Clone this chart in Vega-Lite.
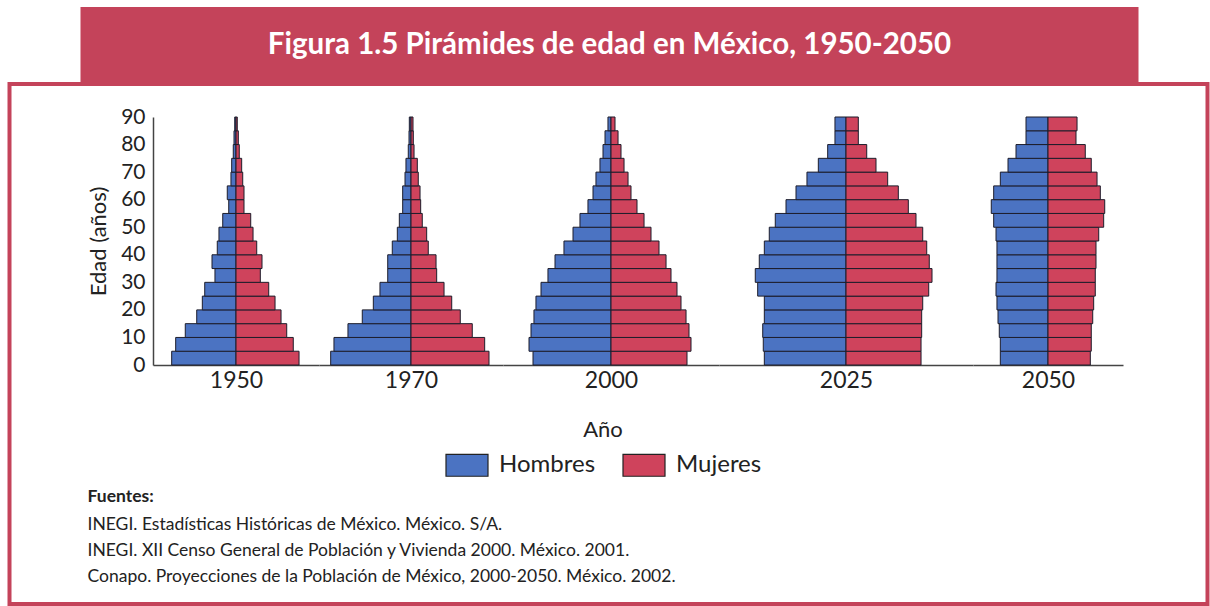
{
  "$schema": "https://vega.github.io/schema/vega-lite/v6.json",
  "padding": {"left": 7.5, "top": 7, "right": 0, "bottom": 0},
  "background": "white",
  "datasets": {
    "piramides": [
      {"anio":"1950","sexo":"Hombres","edad":0,"edad_fin":5,"valor":-8.04},
      {"anio":"1950","sexo":"Hombres","edad":5,"edad_fin":10,"valor":-7.54},
      {"anio":"1950","sexo":"Hombres","edad":10,"edad_fin":15,"valor":-6.34},
      {"anio":"1950","sexo":"Hombres","edad":15,"edad_fin":20,"valor":-4.91},
      {"anio":"1950","sexo":"Hombres","edad":20,"edad_fin":25,"valor":-4.21},
      {"anio":"1950","sexo":"Hombres","edad":25,"edad_fin":30,"valor":-3.91},
      {"anio":"1950","sexo":"Hombres","edad":30,"edad_fin":35,"valor":-2.63},
      {"anio":"1950","sexo":"Hombres","edad":35,"edad_fin":40,"valor":-3.00},
      {"anio":"1950","sexo":"Hombres","edad":40,"edad_fin":45,"valor":-2.34},
      {"anio":"1950","sexo":"Hombres","edad":45,"edad_fin":50,"valor":-2.13},
      {"anio":"1950","sexo":"Hombres","edad":50,"edad_fin":55,"valor":-1.66},
      {"anio":"1950","sexo":"Hombres","edad":55,"edad_fin":60,"valor":-0.91},
      {"anio":"1950","sexo":"Hombres","edad":60,"edad_fin":65,"valor":-1.09},
      {"anio":"1950","sexo":"Hombres","edad":65,"edad_fin":70,"valor":-0.63},
      {"anio":"1950","sexo":"Hombres","edad":70,"edad_fin":75,"valor":-0.54},
      {"anio":"1950","sexo":"Hombres","edad":75,"edad_fin":80,"valor":-0.34},
      {"anio":"1950","sexo":"Hombres","edad":80,"edad_fin":85,"valor":-0.25},
      {"anio":"1950","sexo":"Hombres","edad":85,"edad_fin":90,"valor":-0.16},
      {"anio":"1950","sexo":"Mujeres","edad":0,"edad_fin":5,"valor":7.88},
      {"anio":"1950","sexo":"Mujeres","edad":5,"edad_fin":10,"valor":7.16},
      {"anio":"1950","sexo":"Mujeres","edad":10,"edad_fin":15,"valor":6.34},
      {"anio":"1950","sexo":"Mujeres","edad":15,"edad_fin":20,"valor":5.63},
      {"anio":"1950","sexo":"Mujeres","edad":20,"edad_fin":25,"valor":4.88},
      {"anio":"1950","sexo":"Mujeres","edad":25,"edad_fin":30,"valor":4.09},
      {"anio":"1950","sexo":"Mujeres","edad":30,"edad_fin":35,"valor":3.04},
      {"anio":"1950","sexo":"Mujeres","edad":35,"edad_fin":40,"valor":3.25},
      {"anio":"1950","sexo":"Mujeres","edad":40,"edad_fin":45,"valor":2.59},
      {"anio":"1950","sexo":"Mujeres","edad":45,"edad_fin":50,"valor":2.13},
      {"anio":"1950","sexo":"Mujeres","edad":50,"edad_fin":55,"valor":1.84},
      {"anio":"1950","sexo":"Mujeres","edad":55,"edad_fin":60,"valor":1.00},
      {"anio":"1950","sexo":"Mujeres","edad":60,"edad_fin":65,"valor":1.00},
      {"anio":"1950","sexo":"Mujeres","edad":65,"edad_fin":70,"valor":0.84},
      {"anio":"1950","sexo":"Mujeres","edad":70,"edad_fin":75,"valor":0.71},
      {"anio":"1950","sexo":"Mujeres","edad":75,"edad_fin":80,"valor":0.41},
      {"anio":"1950","sexo":"Mujeres","edad":80,"edad_fin":85,"valor":0.29},
      {"anio":"1950","sexo":"Mujeres","edad":85,"edad_fin":90,"valor":0.16},
      {"anio":"1970","sexo":"Hombres","edad":0,"edad_fin":5,"valor":-10.04},
      {"anio":"1970","sexo":"Hombres","edad":5,"edad_fin":10,"valor":-9.63},
      {"anio":"1970","sexo":"Hombres","edad":10,"edad_fin":15,"valor":-7.88},
      {"anio":"1970","sexo":"Hombres","edad":15,"edad_fin":20,"valor":-6.09},
      {"anio":"1970","sexo":"Hombres","edad":20,"edad_fin":25,"valor":-4.71},
      {"anio":"1970","sexo":"Hombres","edad":25,"edad_fin":30,"valor":-3.88},
      {"anio":"1970","sexo":"Hombres","edad":30,"edad_fin":35,"valor":-2.91},
      {"anio":"1970","sexo":"Hombres","edad":35,"edad_fin":40,"valor":-2.91},
      {"anio":"1970","sexo":"Hombres","edad":40,"edad_fin":45,"valor":-2.34},
      {"anio":"1970","sexo":"Hombres","edad":45,"edad_fin":50,"valor":-1.71},
      {"anio":"1970","sexo":"Hombres","edad":50,"edad_fin":55,"valor":-1.46},
      {"anio":"1970","sexo":"Hombres","edad":55,"edad_fin":60,"valor":-1.04},
      {"anio":"1970","sexo":"Hombres","edad":60,"edad_fin":65,"valor":-1.04},
      {"anio":"1970","sexo":"Hombres","edad":65,"edad_fin":70,"valor":-0.75},
      {"anio":"1970","sexo":"Hombres","edad":70,"edad_fin":75,"valor":-0.63},
      {"anio":"1970","sexo":"Hombres","edad":75,"edad_fin":80,"valor":-0.34},
      {"anio":"1970","sexo":"Hombres","edad":80,"edad_fin":85,"valor":-0.25},
      {"anio":"1970","sexo":"Hombres","edad":85,"edad_fin":90,"valor":-0.21},
      {"anio":"1970","sexo":"Mujeres","edad":0,"edad_fin":5,"valor":9.75},
      {"anio":"1970","sexo":"Mujeres","edad":5,"edad_fin":10,"valor":9.21},
      {"anio":"1970","sexo":"Mujeres","edad":10,"edad_fin":15,"valor":7.66},
      {"anio":"1970","sexo":"Mujeres","edad":15,"edad_fin":20,"valor":6.16},
      {"anio":"1970","sexo":"Mujeres","edad":20,"edad_fin":25,"valor":5.09},
      {"anio":"1970","sexo":"Mujeres","edad":25,"edad_fin":30,"valor":4.13},
      {"anio":"1970","sexo":"Mujeres","edad":30,"edad_fin":35,"valor":3.21},
      {"anio":"1970","sexo":"Mujeres","edad":35,"edad_fin":40,"valor":3.13},
      {"anio":"1970","sexo":"Mujeres","edad":40,"edad_fin":45,"valor":2.16},
      {"anio":"1970","sexo":"Mujeres","edad":45,"edad_fin":50,"valor":1.96},
      {"anio":"1970","sexo":"Mujeres","edad":50,"edad_fin":55,"valor":1.41},
      {"anio":"1970","sexo":"Mujeres","edad":55,"edad_fin":60,"valor":1.21},
      {"anio":"1970","sexo":"Mujeres","edad":60,"edad_fin":65,"valor":1.13},
      {"anio":"1970","sexo":"Mujeres","edad":65,"edad_fin":70,"valor":0.91},
      {"anio":"1970","sexo":"Mujeres","edad":70,"edad_fin":75,"valor":0.79},
      {"anio":"1970","sexo":"Mujeres","edad":75,"edad_fin":80,"valor":0.38},
      {"anio":"1970","sexo":"Mujeres","edad":80,"edad_fin":85,"valor":0.29},
      {"anio":"1970","sexo":"Mujeres","edad":85,"edad_fin":90,"valor":0.25},
      {"anio":"2000","sexo":"Hombres","edad":0,"edad_fin":5,"valor":-9.75},
      {"anio":"2000","sexo":"Hombres","edad":5,"edad_fin":10,"valor":-10.25},
      {"anio":"2000","sexo":"Hombres","edad":10,"edad_fin":15,"valor":-10.00},
      {"anio":"2000","sexo":"Hombres","edad":15,"edad_fin":20,"valor":-9.63},
      {"anio":"2000","sexo":"Hombres","edad":20,"edad_fin":25,"valor":-9.38},
      {"anio":"2000","sexo":"Hombres","edad":25,"edad_fin":30,"valor":-8.75},
      {"anio":"2000","sexo":"Hombres","edad":30,"edad_fin":35,"valor":-7.88},
      {"anio":"2000","sexo":"Hombres","edad":35,"edad_fin":40,"valor":-7.00},
      {"anio":"2000","sexo":"Hombres","edad":40,"edad_fin":45,"valor":-5.88},
      {"anio":"2000","sexo":"Hombres","edad":45,"edad_fin":50,"valor":-4.75},
      {"anio":"2000","sexo":"Hombres","edad":50,"edad_fin":55,"valor":-3.88},
      {"anio":"2000","sexo":"Hombres","edad":55,"edad_fin":60,"valor":-2.88},
      {"anio":"2000","sexo":"Hombres","edad":60,"edad_fin":65,"valor":-2.25},
      {"anio":"2000","sexo":"Hombres","edad":65,"edad_fin":70,"valor":-1.88},
      {"anio":"2000","sexo":"Hombres","edad":70,"edad_fin":75,"valor":-1.38},
      {"anio":"2000","sexo":"Hombres","edad":75,"edad_fin":80,"valor":-1.00},
      {"anio":"2000","sexo":"Hombres","edad":80,"edad_fin":85,"valor":-0.75},
      {"anio":"2000","sexo":"Hombres","edad":85,"edad_fin":90,"valor":-0.38},
      {"anio":"2000","sexo":"Mujeres","edad":0,"edad_fin":5,"valor":9.50},
      {"anio":"2000","sexo":"Mujeres","edad":5,"edad_fin":10,"valor":10.00},
      {"anio":"2000","sexo":"Mujeres","edad":10,"edad_fin":15,"valor":9.75},
      {"anio":"2000","sexo":"Mujeres","edad":15,"edad_fin":20,"valor":9.38},
      {"anio":"2000","sexo":"Mujeres","edad":20,"edad_fin":25,"valor":8.75},
      {"anio":"2000","sexo":"Mujeres","edad":25,"edad_fin":30,"valor":8.25},
      {"anio":"2000","sexo":"Mujeres","edad":30,"edad_fin":35,"valor":7.50},
      {"anio":"2000","sexo":"Mujeres","edad":35,"edad_fin":40,"valor":6.88},
      {"anio":"2000","sexo":"Mujeres","edad":40,"edad_fin":45,"valor":6.00},
      {"anio":"2000","sexo":"Mujeres","edad":45,"edad_fin":50,"valor":5.00},
      {"anio":"2000","sexo":"Mujeres","edad":50,"edad_fin":55,"valor":4.13},
      {"anio":"2000","sexo":"Mujeres","edad":55,"edad_fin":60,"valor":3.25},
      {"anio":"2000","sexo":"Mujeres","edad":60,"edad_fin":65,"valor":2.50},
      {"anio":"2000","sexo":"Mujeres","edad":65,"edad_fin":70,"valor":2.13},
      {"anio":"2000","sexo":"Mujeres","edad":70,"edad_fin":75,"valor":1.63},
      {"anio":"2000","sexo":"Mujeres","edad":75,"edad_fin":80,"valor":1.25},
      {"anio":"2000","sexo":"Mujeres","edad":80,"edad_fin":85,"valor":0.88},
      {"anio":"2000","sexo":"Mujeres","edad":85,"edad_fin":90,"valor":0.50},
      {"anio":"2025","sexo":"Hombres","edad":0,"edad_fin":5,"valor":-10.21},
      {"anio":"2025","sexo":"Hombres","edad":5,"edad_fin":10,"valor":-10.34},
      {"anio":"2025","sexo":"Hombres","edad":10,"edad_fin":15,"valor":-10.41},
      {"anio":"2025","sexo":"Hombres","edad":15,"edad_fin":20,"valor":-10.21},
      {"anio":"2025","sexo":"Hombres","edad":20,"edad_fin":25,"valor":-10.21},
      {"anio":"2025","sexo":"Hombres","edad":25,"edad_fin":30,"valor":-11.04},
      {"anio":"2025","sexo":"Hombres","edad":30,"edad_fin":35,"valor":-11.34},
      {"anio":"2025","sexo":"Hombres","edad":35,"edad_fin":40,"valor":-10.84},
      {"anio":"2025","sexo":"Hombres","edad":40,"edad_fin":45,"valor":-10.21},
      {"anio":"2025","sexo":"Hombres","edad":45,"edad_fin":50,"valor":-9.59},
      {"anio":"2025","sexo":"Hombres","edad":50,"edad_fin":55,"valor":-8.84},
      {"anio":"2025","sexo":"Hombres","edad":55,"edad_fin":60,"valor":-7.50},
      {"anio":"2025","sexo":"Hombres","edad":60,"edad_fin":65,"valor":-6.25},
      {"anio":"2025","sexo":"Hombres","edad":65,"edad_fin":70,"valor":-4.88},
      {"anio":"2025","sexo":"Hombres","edad":70,"edad_fin":75,"valor":-3.46},
      {"anio":"2025","sexo":"Hombres","edad":75,"edad_fin":80,"valor":-2.29},
      {"anio":"2025","sexo":"Hombres","edad":80,"edad_fin":85,"valor":-1.38},
      {"anio":"2025","sexo":"Hombres","edad":85,"edad_fin":90,"valor":-1.38},
      {"anio":"2025","sexo":"Mujeres","edad":0,"edad_fin":5,"valor":9.38},
      {"anio":"2025","sexo":"Mujeres","edad":5,"edad_fin":10,"valor":9.38},
      {"anio":"2025","sexo":"Mujeres","edad":10,"edad_fin":15,"valor":9.46},
      {"anio":"2025","sexo":"Mujeres","edad":15,"edad_fin":20,"valor":9.46},
      {"anio":"2025","sexo":"Mujeres","edad":20,"edad_fin":25,"valor":9.59},
      {"anio":"2025","sexo":"Mujeres","edad":25,"edad_fin":30,"valor":10.34},
      {"anio":"2025","sexo":"Mujeres","edad":30,"edad_fin":35,"valor":10.75},
      {"anio":"2025","sexo":"Mujeres","edad":35,"edad_fin":40,"valor":10.41},
      {"anio":"2025","sexo":"Mujeres","edad":40,"edad_fin":45,"valor":10.09},
      {"anio":"2025","sexo":"Mujeres","edad":45,"edad_fin":50,"valor":9.59},
      {"anio":"2025","sexo":"Mujeres","edad":50,"edad_fin":55,"valor":8.75},
      {"anio":"2025","sexo":"Mujeres","edad":55,"edad_fin":60,"valor":7.79},
      {"anio":"2025","sexo":"Mujeres","edad":60,"edad_fin":65,"valor":6.54},
      {"anio":"2025","sexo":"Mujeres","edad":65,"edad_fin":70,"valor":5.21},
      {"anio":"2025","sexo":"Mujeres","edad":70,"edad_fin":75,"valor":3.75},
      {"anio":"2025","sexo":"Mujeres","edad":75,"edad_fin":80,"valor":2.59},
      {"anio":"2025","sexo":"Mujeres","edad":80,"edad_fin":85,"valor":1.54},
      {"anio":"2025","sexo":"Mujeres","edad":85,"edad_fin":90,"valor":1.54},
      {"anio":"2050","sexo":"Hombres","edad":0,"edad_fin":5,"valor":-5.96},
      {"anio":"2050","sexo":"Hombres","edad":5,"edad_fin":10,"valor":-5.96},
      {"anio":"2050","sexo":"Hombres","edad":10,"edad_fin":15,"valor":-6.09},
      {"anio":"2050","sexo":"Hombres","edad":15,"edad_fin":20,"valor":-6.25},
      {"anio":"2050","sexo":"Hombres","edad":20,"edad_fin":25,"valor":-6.38},
      {"anio":"2050","sexo":"Hombres","edad":25,"edad_fin":30,"valor":-6.50},
      {"anio":"2050","sexo":"Hombres","edad":30,"edad_fin":35,"valor":-6.38},
      {"anio":"2050","sexo":"Hombres","edad":35,"edad_fin":40,"valor":-6.38},
      {"anio":"2050","sexo":"Hombres","edad":40,"edad_fin":45,"valor":-6.38},
      {"anio":"2050","sexo":"Hombres","edad":45,"edad_fin":50,"valor":-6.50},
      {"anio":"2050","sexo":"Hombres","edad":50,"edad_fin":55,"valor":-6.79},
      {"anio":"2050","sexo":"Hombres","edad":55,"edad_fin":60,"valor":-7.09},
      {"anio":"2050","sexo":"Hombres","edad":60,"edad_fin":65,"valor":-6.79},
      {"anio":"2050","sexo":"Hombres","edad":65,"edad_fin":70,"valor":-5.96},
      {"anio":"2050","sexo":"Hombres","edad":70,"edad_fin":75,"valor":-5.00},
      {"anio":"2050","sexo":"Hombres","edad":75,"edad_fin":80,"valor":-4.00},
      {"anio":"2050","sexo":"Hombres","edad":80,"edad_fin":85,"valor":-2.75},
      {"anio":"2050","sexo":"Hombres","edad":85,"edad_fin":90,"valor":-2.75},
      {"anio":"2050","sexo":"Mujeres","edad":0,"edad_fin":5,"valor":5.29},
      {"anio":"2050","sexo":"Mujeres","edad":5,"edad_fin":10,"valor":5.41},
      {"anio":"2050","sexo":"Mujeres","edad":10,"edad_fin":15,"valor":5.41},
      {"anio":"2050","sexo":"Mujeres","edad":15,"edad_fin":20,"valor":5.59},
      {"anio":"2050","sexo":"Mujeres","edad":20,"edad_fin":25,"valor":5.71},
      {"anio":"2050","sexo":"Mujeres","edad":25,"edad_fin":30,"valor":5.91},
      {"anio":"2050","sexo":"Mujeres","edad":30,"edad_fin":35,"valor":5.91},
      {"anio":"2050","sexo":"Mujeres","edad":35,"edad_fin":40,"valor":6.00},
      {"anio":"2050","sexo":"Mujeres","edad":40,"edad_fin":45,"valor":6.00},
      {"anio":"2050","sexo":"Mujeres","edad":45,"edad_fin":50,"valor":6.34},
      {"anio":"2050","sexo":"Mujeres","edad":50,"edad_fin":55,"valor":6.96},
      {"anio":"2050","sexo":"Mujeres","edad":55,"edad_fin":60,"valor":7.09},
      {"anio":"2050","sexo":"Mujeres","edad":60,"edad_fin":65,"valor":6.54},
      {"anio":"2050","sexo":"Mujeres","edad":65,"edad_fin":70,"valor":6.13},
      {"anio":"2050","sexo":"Mujeres","edad":70,"edad_fin":75,"valor":5.41},
      {"anio":"2050","sexo":"Mujeres","edad":75,"edad_fin":80,"valor":4.66},
      {"anio":"2050","sexo":"Mujeres","edad":80,"edad_fin":85,"valor":3.50},
      {"anio":"2050","sexo":"Mujeres","edad":85,"edad_fin":90,"valor":3.63}
    ]
  },
  "spacing": 0,
  "center": true,
  "vconcat": [
    {
      "width": 1058,
      "height": 75,
      "view": {"fill": "#c4435a", "stroke": null},
      "data": {"values": [{"titulo": "Figura 1.5 Pirámides de edad en México, 1950-2050"}]},
      "mark": {"type": "text", "fontSize": 29.5, "fontWeight": "bold", "fill": "white", "align": "center", "baseline": "middle"},
      "encoding": {"text": {"field": "titulo"}}
    },
    {
      "width": 1198,
      "height": 520,
      "view": {"stroke": "#c4435a", "strokeWidth": 4, "fill": null},
      "data": {"name": "piramides"},
      "title": {
        "text": "Fuentes:",
        "subtitle": [
          "INEGI. Estadísticas Históricas de México. México. S/A.",
          "INEGI. XII Censo General de Población y Vivienda 2000. México. 2001.",
          "Conapo. Proyecciones de la Población de México, 2000-2050. México. 2002."
        ],
        "orient": "bottom",
        "anchor": "start",
        "frame": "group",
        "offset": -116,
        "dx": 78,
        "fontSize": 17.5,
        "fontWeight": "bold",
        "color": "#222222",
        "subtitleFontSize": 17.5,
        "subtitleColor": "#222222",
        "subtitleLineHeight": 26,
        "subtitlePadding": 10
      },
      "resolve": {"scale": {"x": "independent"}, "axis": {"x": "independent"}},
      "encoding": {
        "y": {"field": "edad", "type": "quantitative", "scale": {"domain": [0, 90], "nice": false, "range": [281, 33]}, "axis": {"title": "Edad (años)", "orient": "left", "offset": -143.5, "values": [0, 10, 20, 30, 40, 50, 60, 70, 80, 90], "ticks": false, "grid": false, "labelPadding": 8, "titlePadding": 10, "labelFontSize": 21, "titleFontSize": 22, "titleFontWeight": "normal", "labelColor": "#222222", "titleColor": "#222222", "domainColor": "#444444", "domainWidth": 1.5}},
        "y2": {"field": "edad_fin"},
        "color": {"field": "sexo", "type": "nominal", "scale": {"domain": ["Hombres", "Mujeres"], "range": ["#4b73c2", "#cf435c"]}, "legend": {"orient": "none", "legendX": 435.5, "legendY": 413, "direction": "horizontal", "title": "Año", "titleAnchor": "middle", "titleFontSize": 22, "titleFontWeight": "normal", "titleColor": "#222222", "titlePadding": 1, "labelFontSize": 24, "labelColor": "#222222", "labelOffset": 10, "columnPadding": 24, "symbolType": "M-1,-0.52H1V0.52H-1Z", "symbolSize": 1764, "symbolStrokeColor": "#222222", "symbolStrokeWidth": 1.2}}
      },
      "layer": [
        {
          "transform": [{"filter": "datum.anio == '1950'"}],
          "mark": {"type": "rect", "stroke": "#1d1d2b", "strokeWidth": 1},
          "encoding": {
            "x": {"field": "valor", "type": "quantitative", "scale": {"domain": [-10.375, 10.375], "range": [143.5, 309.5], "nice": false, "zero": false}, "axis": {"title": "1950", "orient": "bottom", "offset": -239, "labels": false, "ticks": false, "grid": false}},
            "x2": {"datum": 0}
          }
        },
        {
          "transform": [{"filter": "datum.anio == '1970'"}],
          "mark": {"type": "rect", "stroke": "#1d1d2b", "strokeWidth": 1},
          "encoding": {
            "x": {"field": "valor", "type": "quantitative", "scale": {"domain": [-11.5, 11.5], "range": [309.5, 493.5], "nice": false, "zero": false}, "axis": {"title": "1970", "orient": "bottom", "offset": -239, "labels": false, "ticks": false, "grid": false}},
            "x2": {"datum": 0}
          }
        },
        {
          "transform": [{"filter": "datum.anio == '2000'"}],
          "mark": {"type": "rect", "stroke": "#1d1d2b", "strokeWidth": 1},
          "encoding": {
            "x": {"field": "valor", "type": "quantitative", "scale": {"domain": [-13.5, 13.5], "range": [493.5, 709.5], "nice": false, "zero": false}, "axis": {"title": "2000", "orient": "bottom", "offset": -239, "labels": false, "ticks": false, "grid": false}},
            "x2": {"datum": 0}
          }
        },
        {
          "transform": [{"filter": "datum.anio == '2025'"}],
          "mark": {"type": "rect", "stroke": "#1d1d2b", "strokeWidth": 1},
          "encoding": {
            "x": {"field": "valor", "type": "quantitative", "scale": {"domain": [-15.875, 15.875], "range": [709.5, 963.5], "nice": false, "zero": false}, "axis": {"title": "2025", "orient": "bottom", "offset": -239, "labels": false, "ticks": false, "grid": false}},
            "x2": {"datum": 0}
          }
        },
        {
          "transform": [{"filter": "datum.anio == '2050'"}],
          "mark": {"type": "rect", "stroke": "#1d1d2b", "strokeWidth": 1},
          "encoding": {
            "x": {"field": "valor", "type": "quantitative", "scale": {"domain": [-9.375, 9.375], "range": [963.5, 1113.5], "nice": false, "zero": false}, "axis": {"title": "2050", "orient": "bottom", "offset": -239, "labels": false, "ticks": false, "grid": false}},
            "x2": {"datum": 0}
          }
        }
      ]
    }
  ],
  "config": {
    "font": "Lato",
    "view": {"stroke": null},
    "axis": {"domainColor": "#444444", "domainWidth": 1.5, "titleFontSize": 23, "titleFontWeight": "normal", "titleColor": "#222222", "titlePadding": 4}
  }
}
